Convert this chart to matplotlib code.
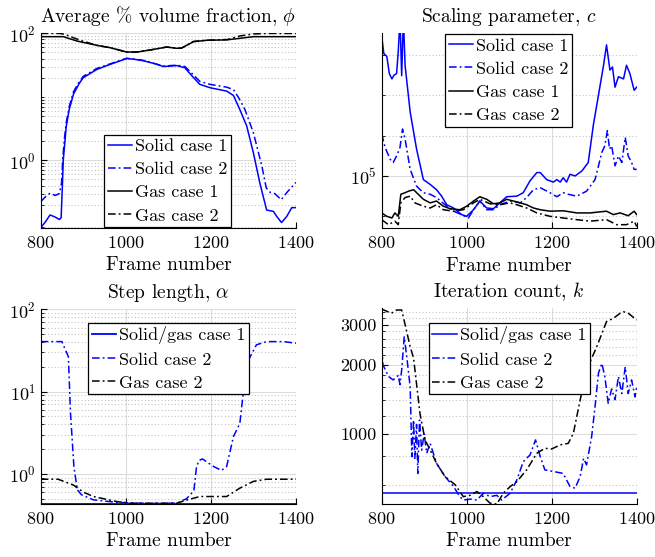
import numpy as np
import matplotlib
matplotlib.use("Agg")
import matplotlib.pyplot as plt
from matplotlib.ticker import FixedLocator, NullFormatter, LogFormatterMathtext, FixedFormatter

plt.rcParams['font.family'] = 'serif'
plt.rcParams['font.serif'] = ['cmr10']
plt.rcParams['mathtext.fontset'] = 'cm'
plt.rcParams['axes.formatter.use_mathtext'] = True

# ---- volume fraction (top left)
phi_s1_f = [800, 810, 822, 834, 844, 848, 851, 853, 857, 860, 867, 877, 890, 900, 932, 963, 1002, 1020,
            1041, 1070, 1088, 1105, 1120, 1139, 1155, 1174, 1198, 1237, 1253, 1268, 1284, 1300, 1315,
            1331, 1347, 1355, 1366, 1378, 1390, 1400]
phi_s1 = [0.087, 0.105, 0.138, 0.128, 0.117, 0.125, 0.4, 1.0, 2.0, 3.4, 6.3, 11, 16, 20, 27, 32.4, 40, 39,
          37, 33, 30, 30.5, 31, 28.6, 21.5, 15.7, 13.9, 12.3, 10.5, 6.3, 3.5, 1.3, 0.44,
          0.165, 0.157, 0.13, 0.105, 0.13, 0.18, 0.18]
phi_s2_f = [800, 812, 822, 834, 844, 849, 852, 856, 860, 867, 877, 890, 900, 932, 963, 1002, 1041, 1088,
            1120, 1139, 1155, 1174, 1198, 1237, 1253, 1268, 1280, 1300, 1320, 1330, 1340, 1350, 1365,
            1380, 1400]
phi_s2 = [0.224, 0.27, 0.304, 0.28, 0.30, 0.44, 1.1, 2.3, 3.9, 7.0, 12, 17, 21, 28, 33, 40.5, 37.5, 30.5,
          31.5, 30, 23.5, 17.5, 15.7, 14.2, 13, 9, 6.3, 2.7, 0.8, 0.37, 0.31, 0.30, 0.24,
          0.32, 0.45]
phi_g1_f = [800, 853, 885, 932, 963, 1002, 1026, 1057, 1096, 1120, 1131, 1159, 1190, 1237, 1268, 1300, 1400]
phi_g1 = [88.5, 88.5, 75.7, 64.6, 59.4, 50.7, 50.7, 54.6, 60.8, 58, 58.5, 73.8, 77.6, 78.8, 83.4, 88.5, 88.5]
phi_g2_f = [800, 845, 857, 877, 900, 932, 963, 1002, 1026, 1057, 1096, 1120, 1131, 1159, 1190, 1240,
            1268, 1300, 1331, 1400]
phi_g2 = [99.5, 99.5, 96, 85, 75, 64.6, 59.4, 50.7, 50.7, 54.6, 60.8, 58, 58.5, 74.5, 77.6, 80,
          90.8, 97.6, 99.5, 99.5]

# ---- scaling parameter (top right)
c_s1_f = [800, 805, 812, 818, 824, 829, 835, 839, 843, 847, 851, 855, 867, 882, 898, 914, 929, 941, 953,
          969, 988, 1000, 1016, 1031, 1047, 1063, 1078, 1094, 1118, 1133, 1149, 1165, 1173, 1188, 1204,
          1212, 1220, 1227, 1235, 1243, 1255, 1271, 1286, 1298, 1310, 1322, 1329, 1337, 1343, 1349,
          1357, 1369, 1376, 1384, 1394, 1400]
c_s1 = [1.1e6, 8.2e5, 7.8e5, 5.8e5, 5.3e5, 5.65e5, 5.8e5, 8.5e5, 1.5e6, 5.6e5, 1.5e6, 6.7e5, 3.0e5,
        1.59e5, 9.4e4, 8.65e4, 7.9e4, 7.07e4, 6.1e4, 5.77e4, 5.15e4, 5.0e4, 5.6e4, 6.5e4, 5.77e4,
        5.7e4, 6.3e4, 7.0e4, 7.07e4, 7.5e4, 9.2e4, 1.06e5, 1.06e5, 9.4e4, 9.0e4, 9.4e4, 9.0e4, 9.7e4,
        9.0e4, 1.03e5, 1.0e5, 1.09e5, 1.26e5, 2.4e5, 4.0e5, 6.7e5, 9.5e5, 6.17e5, 6.5e5, 4.6e5,
        5.5e5, 5.3e5, 6.7e5, 5.8e5, 4.36e5, 4.6e5]
c_s2_f = [800, 808, 820, 827, 835, 843, 849, 855, 867, 882, 898, 914, 929, 949, 969, 988, 1004, 1016,
          1031, 1047, 1063, 1078, 1102, 1126, 1141, 1157, 1173, 1196, 1212, 1227, 1239, 1259, 1282,
          1302, 1318, 1325, 1331, 1336, 1341, 1349, 1357, 1365, 1373, 1380, 1388, 1394, 1400]
c_s2 = [2.06e5, 1.63e5, 1.33e5, 1.26e5, 1.41e5, 1.63e5, 2.24e5, 1.89e5, 1.12e5, 8.4e4, 7.5e4, 7.3e4,
        6.9e4, 6.1e4, 5.46e4, 5.15e4, 4.86e4, 5.6e4, 6.5e4, 5.6e4, 5.6e4, 6.1e4, 6.5e4, 6.3e4, 6.9e4,
        7.9e4, 8.17e4, 7.5e4, 7.0e4, 7.5e4, 7.3e4, 7.07e4, 7.7e4, 9.4e4, 1.5e5, 1.68e5, 2.18e5,
        1.59e5, 1.68e5, 1.19e5, 1.41e5, 1.26e5, 1.94e5, 1.41e5, 1.26e5, 1.12e5, 1.12e5]
c_g1_f = [800, 812, 824, 831, 839, 845, 855, 863, 875, 886, 898, 914, 929, 945, 961, 984, 1000, 1016,
          1031, 1047, 1063, 1078, 1094, 1110, 1126, 1141, 1157, 1173, 1196, 1227, 1259, 1290, 1329,
          1345, 1361, 1380, 1394, 1400]
c_g1 = [5.3e4, 5.0e4, 4.86e4, 5.3e4, 5.0e4, 7.3e4, 7.5e4, 7.7e4, 7.9e4, 7.3e4, 6.7e4, 6.3e4, 6.5e4,
        5.95e4, 5.7e4, 5.6e4, 5.95e4, 6.5e4, 7.0e4, 6.7e4, 6.2e4, 6.3e4, 6.7e4, 6.5e4, 6.3e4, 6.1e4,
        5.77e4, 5.6e4, 5.46e4, 5.5e4, 5.3e4, 5.3e4, 5.46e4, 5.15e4, 5.3e4, 5.05e4, 5.46e4, 5.15e4]
c_g2_f = [800, 816, 831, 839, 845, 855, 867, 878, 898, 914, 929, 945, 969, 992, 1016, 1031, 1055, 1078,
          1102, 1118, 1141, 1165, 1196, 1227, 1259, 1290, 1329, 1353, 1376, 1394, 1400]
c_g2 = [4.72e4, 4.33e4, 4.6e4, 4.33e4, 6.3e4, 6.9e4, 7.07e4, 6.3e4, 5.95e4, 5.77e4, 6.1e4, 5.6e4,
        5.46e4, 5.6e4, 6.3e4, 6.7e4, 6.2e4, 6.1e4, 6.3e4, 6.1e4, 5.77e4, 5.3e4, 5.0e4, 4.86e4, 4.72e4,
        4.6e4, 4.72e4, 4.33e4, 4.33e4, 4.6e4, 4.2e4]

# ---- step length (bottom left)
a_c1_f = [800, 1400]
a_c1 = [0.435, 0.435]
a_s2_f = [800, 850, 855, 865, 870, 878, 886, 896, 924, 979, 1050, 1120, 1143, 1157, 1160, 1166, 1172,
          1180, 1206, 1225, 1237, 1253, 1268, 1276, 1288, 1307, 1331, 1370, 1400]
a_s2 = [40.5, 40.5, 35, 26.6, 5.5, 1.23, 0.64, 0.556, 0.483, 0.45, 0.437, 0.44, 0.5, 0.6, 0.62, 1.2, 1.45,
        1.52, 1.23, 1.1, 1.23, 2.84, 4.1, 9.5, 24, 37, 40.5, 40.5, 38.7]
a_g2_f = [800, 841, 877, 900, 924, 979, 1010, 1120, 1143, 1174, 1237, 1268, 1300, 1331, 1400]
a_g2 = [0.86, 0.86, 0.73, 0.6, 0.53, 0.46, 0.44, 0.44, 0.48, 0.53, 0.53, 0.67, 0.81, 0.86, 0.86]

# ---- iteration count (bottom right)
k_c1_f = [800, 1400]
k_c1 = [555, 555]
k_s2_f = [800, 803, 816, 827, 839, 843, 847, 853, 859, 867, 871, 875, 878, 882, 885, 889, 894, 900, 906,
          914, 929, 949, 969, 984, 992, 1008, 1024, 1039, 1055, 1071, 1082, 1102, 1118, 1133, 1149,
          1162, 1173, 1184, 1204, 1227, 1243, 1255, 1267, 1275, 1282, 1294, 1302, 1310, 1318, 1325,
          1333, 1341, 1349, 1357, 1365, 1373, 1380, 1388, 1396, 1400]
k_s2 = [2400, 2000, 1780, 1720, 1800, 1640, 1900, 2650, 2170, 1600, 796, 1150, 783, 1100, 673, 1150, 850,
        1000, 824, 910, 745, 652, 590, 533, 515, 520, 515, 551, 533, 540, 515, 551, 630, 757, 810,
        942, 796, 697, 686, 673, 590, 580, 652, 783, 733, 974, 1316, 1840, 2030, 1780,
        1360, 1570, 1410, 1780, 1500, 1960, 1500, 1720, 1450, 1600]
k_g2_f = [800, 823, 835, 847, 855, 867, 875, 890, 902, 914, 929, 949, 973, 992, 1008, 1024, 1039, 1055,
          1071, 1086, 1102, 1118, 1141, 1165, 1184, 1200, 1220, 1239, 1251, 1267, 1282, 1306, 1329,
          1345, 1361, 1369, 1380, 1400]
k_g2 = [3500, 3360, 3470, 3470, 3000, 2400, 2140, 1230, 942, 852, 745, 652, 600, 533, 540, 561, 533, 499,
        495, 551, 589, 620, 697, 824, 866, 860, 896, 910, 1007, 1407, 1900, 2400, 3090,
        3190, 3360, 3410, 3360, 3140]

DD = (5, 2, 1.2, 2)
BLUE = '#0000ff'

fig = plt.figure(figsize=(6.55, 5.57), dpi=100)
W, H = 655, 557


def make_ax(l, t, r, b):
    ax = fig.add_axes([l / W, 1 - b / H, (r - l) / W, (b - t) / H])
    ax.set_yscale('log')
    ax.set_xlim(800, 1400)
    ax.set_xticks([800, 1000, 1200, 1400])
    for s in ['top', 'right']:
        ax.spines[s].set_visible(False)
    ax.tick_params(which='both', direction='in', labelsize=13, top=False, right=False)
    ax.tick_params(axis='x', pad=5)
    ax.tick_params(which='major', length=4)
    ax.tick_params(which='minor', length=2)
    ax.grid(True, which='major', color='#dcdcdc', lw=0.8)
    ax.grid(True, which='minor', axis='y', color='#c4c4c4', lw=0.8, ls=(0, (1, 2)))
    ax.set_axisbelow(True)
    ax.set_xlabel('Frame number', fontsize=14, labelpad=4)
    return ax


def legend(ax, loc, anchor):
    lg = ax.legend(loc=loc, bbox_to_anchor=anchor, fontsize=13, handlelength=1.35, handletextpad=0.15,
                   labelspacing=0.42, borderpad=0.2, borderaxespad=0, fancybox=False, framealpha=1)
    lg.get_frame().set_edgecolor('black')
    lg.get_frame().set_linewidth(0.9)


def decade_minor(lo, hi):
    return [m * 10.0 ** e for e in range(lo, hi) for m in range(2, 10)] + [10.0]


# top left
ax1 = make_ax(40.7, 33.3, 296, 227.7)
ax1.plot(phi_s1_f, phi_s1, color=BLUE, lw=1.1, label='Solid case 1')
ax1.plot(phi_s2_f, phi_s2, color=BLUE, lw=1.1, dashes=DD, label='Solid case 2')
ax1.plot(phi_g1_f, phi_g1, color='black', lw=1.1, label='Gas case 1')
ax1.plot(phi_g2_f, phi_g2, color='black', lw=1.1, dashes=DD, label='Gas case 2')
ax1.set_ylim(0.087, 100)
ax1.yaxis.set_major_locator(FixedLocator([1, 100]))
ax1.yaxis.set_major_formatter(LogFormatterMathtext())
ax1.yaxis.set_minor_locator(FixedLocator(decade_minor(-2, 2)))
ax1.yaxis.set_minor_formatter(NullFormatter())
ax1.set_title(r'Average % volume fraction, $\phi$', fontsize=14, pad=8)
legend(ax1, 'lower center', (0.498, 0.003))

# top right
ax2 = make_ax(381.7, 33.3, 636.7, 228.3)
ax2.plot(c_s1_f, c_s1, color=BLUE, lw=1.1, label='Solid case 1')
ax2.plot(c_s2_f, c_s2, color=BLUE, lw=1.1, dashes=DD, label='Solid case 2')
ax2.plot(c_g1_f, c_g1, color='black', lw=1.1, label='Gas case 1')
ax2.plot(c_g2_f, c_g2, color='black', lw=1.1, dashes=DD, label='Gas case 2')
ax2.set_ylim(4.07e4, 1.16e6)
ax2.yaxis.set_major_locator(FixedLocator([1e5]))
ax2.yaxis.set_major_formatter(LogFormatterMathtext())
ax2.yaxis.set_minor_locator(FixedLocator([5e4, 2e5, 4e5, 8e5]))
ax2.yaxis.set_minor_formatter(NullFormatter())
ax2.set_title(r'Scaling parameter, $c$', fontsize=14, pad=8)
legend(ax2, 'upper center', (0.497, 0.995))

# bottom left
ax3 = make_ax(40.7, 309.3, 296, 504)
ax3.plot(a_c1_f, a_c1, color=BLUE, lw=1.3, label='Solid/gas case 1')
ax3.plot(a_s2_f, a_s2, color=BLUE, lw=1.1, dashes=DD, label='Solid case 2')
ax3.plot(a_g2_f, a_g2, color='black', lw=1.1, dashes=DD, label='Gas case 2')
ax3.set_ylim(0.43, 100)
ax3.yaxis.set_major_locator(FixedLocator([1, 10, 100]))
ax3.yaxis.set_major_formatter(LogFormatterMathtext())
ax3.yaxis.set_minor_locator(FixedLocator([m * 10.0 ** e for e in range(-1, 2) for m in range(2, 10)]))
ax3.yaxis.set_minor_formatter(NullFormatter())
ax3.set_title(r'Step length, $\alpha$', fontsize=14, pad=8)
legend(ax3, 'upper center', (0.5, 0.931))

# bottom right
ax4 = make_ax(381.7, 308.3, 636.7, 504)
ax4.plot(k_c1_f, k_c1, color=BLUE, lw=1.1, label='Solid/gas case 1')
ax4.plot(k_s2_f, k_s2, color=BLUE, lw=1.1, dashes=DD, label='Solid case 2')
ax4.plot(k_g2_f, k_g2, color='black', lw=1.1, dashes=DD, label='Gas case 2')
ax4.set_ylim(495, 3530)
ax4.yaxis.set_major_locator(FixedLocator([1000, 2000, 3000]))
ax4.yaxis.set_major_formatter(FixedFormatter(['1000', '2000', '3000']))
ax4.yaxis.set_minor_locator(FixedLocator([v for v in range(600, 3600, 200) if v % 1000]))
ax4.yaxis.set_minor_formatter(NullFormatter())
ax4.set_title(r'Iteration count, $k$', fontsize=14, pad=8)
legend(ax4, 'upper center', (0.5, 0.926))

fig.savefig('out.png', dpi=100)
